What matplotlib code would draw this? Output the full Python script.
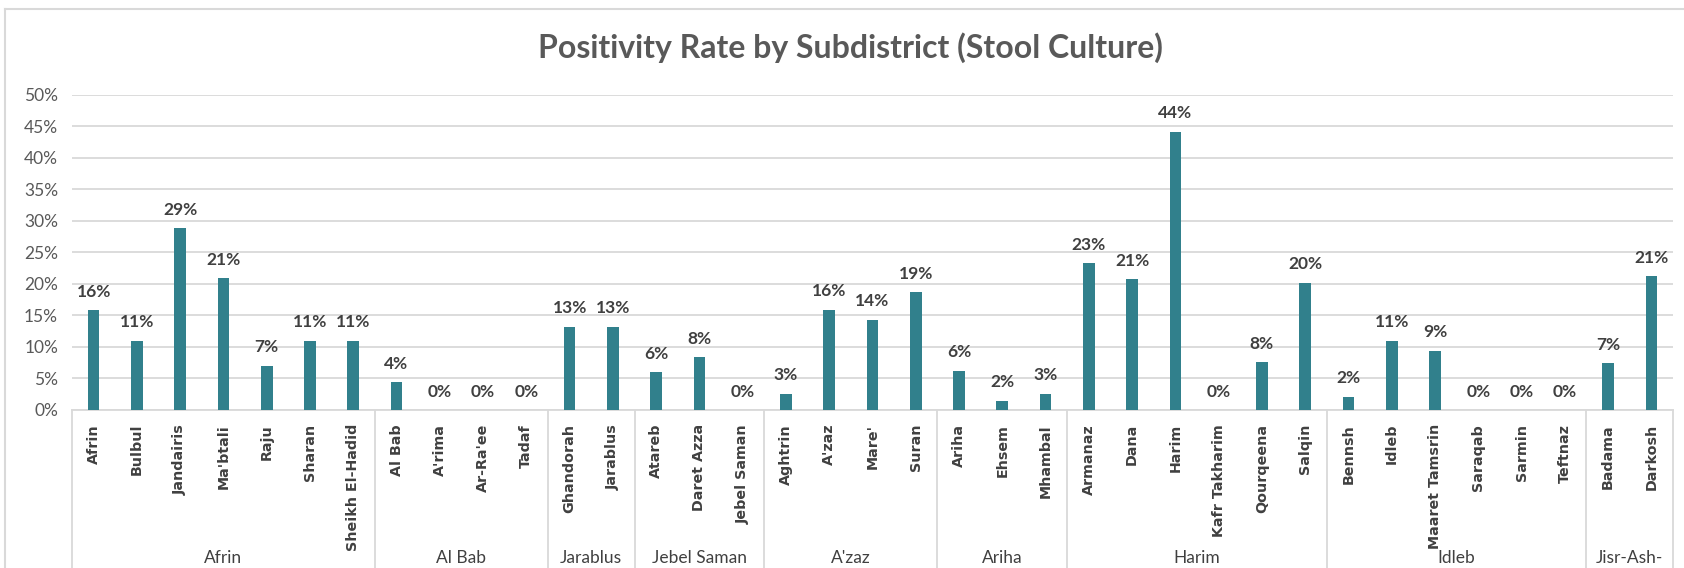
import matplotlib
matplotlib.use('Agg')
import matplotlib.pyplot as plt
from matplotlib.lines import Line2D
from matplotlib.ticker import PercentFormatter, MultipleLocator

# data
groups = ['Afrin', 'Al Bab', 'Jarablus', 'Jebel Saman', "A'zaz", 'Ariha', 'Harim', 'Idleb', 'Jisr-Ash-\nShugur']
group_sizes = [7, 4, 2, 3, 4, 3, 6, 6, 2]
subdistricts = ['Afrin', 'Bulbul', 'Jandairis', "Ma'btali", 'Raju', 'Sharan', 'Sheikh El-Hadid',
                'Al Bab', "A'rima", "Ar-Ra'ee", 'Tadaf',
                'Ghandorah', 'Jarablus',
                'Atareb', 'Daret Azza', 'Jebel Saman',
                'Aghtrin', "A'zaz", "Mare'", 'Suran',
                'Ariha', 'Ehsem', 'Mhambal',
                'Armanaz', 'Dana', 'Harim', 'Kafr Takharim', 'Qourqeena', 'Salqin',
                'Bennsh', 'Idleb', 'Maaret Tamsrin', 'Saraqab', 'Sarmin', 'Teftnaz',
                'Badama', 'Darkosh']
positivity = [15.8, 11.0, 28.8, 20.9, 7.0, 11.0, 11.0,
              4.4, 0, 0, 0,
              13.2, 13.2,
              6.0, 8.4, 0,
              2.6, 15.9, 14.3, 18.7,
              6.2, 1.5, 2.6,
              23.3, 20.7, 44.1, 0, 7.6, 20.2,
              2.1, 11.0, 9.4, 0, 0, 0,
              7.4, 21.2]

bar_color = '#31808C'
txt = '#404040'
axis_txt = '#595959'
grid = '#D9D9D9'

W, H = 1684, 568
fig = plt.figure(figsize=(W / 100, H / 100), dpi=100)
ax = fig.add_axes([72 / W, 1 - 410 / H, (1673 - 72) / W, (410 - 94.5) / H])

x = list(range(len(subdistricts)))
bars = ax.bar(x, positivity, width=0.27, color=bar_color, zorder=3)
for xi, v in zip(x, positivity):
    ax.annotate(f'{v:.0f}%', (xi, v), xytext=(0, 7.5), textcoords='offset points',
                ha='center', va='bottom', fontsize=12.5, fontweight='bold',
                family='Lato', color=txt)

ax.set_xlim(-0.5, len(subdistricts) - 0.5)
ax.set_ylim(0, 50)
ax.yaxis.set_major_locator(MultipleLocator(5))
ax.yaxis.set_major_formatter(PercentFormatter(decimals=0))
ax.grid(axis='y', color=grid, linewidth=1.3, zorder=0)
for s in ['top', 'right', 'left']:
    ax.spines[s].set_visible(False)
ax.spines['bottom'].set_color(grid)
ax.spines['bottom'].set_linewidth(1.3)
ax.tick_params(axis='y', length=0, pad=10, labelsize=12.5, labelcolor=axis_txt)
for lab in ax.get_yticklabels():
    lab.set_family('Lato')

ax.set_xticks(x)
ax.set_xticklabels(subdistricts, rotation=90, family='DejaVu Sans', fontweight='bold',
                   fontsize=10.3, color=txt, va='top', ha='center')
ax.tick_params(axis='x', length=0, pad=10)

# group separators and group labels
tr = ax.get_xaxis_transform()
start = -0.5
ax.plot([start, start], [0, -0.6], transform=tr, color=grid, lw=1.3, clip_on=False)
for g, n in zip(groups, group_sizes):
    end = start + n
    ax.plot([end, end], [0, -0.6], transform=tr, color=grid, lw=1.3, clip_on=False)
    ax.text((start + end) / 2, -(550 - 410) / 315.5, g, transform=tr, ha='center', va='top',
            fontsize=12.5, family='Lato', color=txt)
    start = end

fig.text(0.505, 1 - 48 / H, 'Positivity Rate by Subdistrict (Stool Culture)', ha='center',
         va='center', fontsize=23, fontweight='bold', family='Lato', color=axis_txt)

# outer chart border
fig.add_artist(Line2D([5 / W, 5 / W], [0, 1 - 9 / H], color=grid, lw=1.5))
fig.add_artist(Line2D([5 / W, 1], [1 - 9 / H, 1 - 9 / H], color=grid, lw=1.5))

fig.savefig('out.png', dpi=100, facecolor='white')
